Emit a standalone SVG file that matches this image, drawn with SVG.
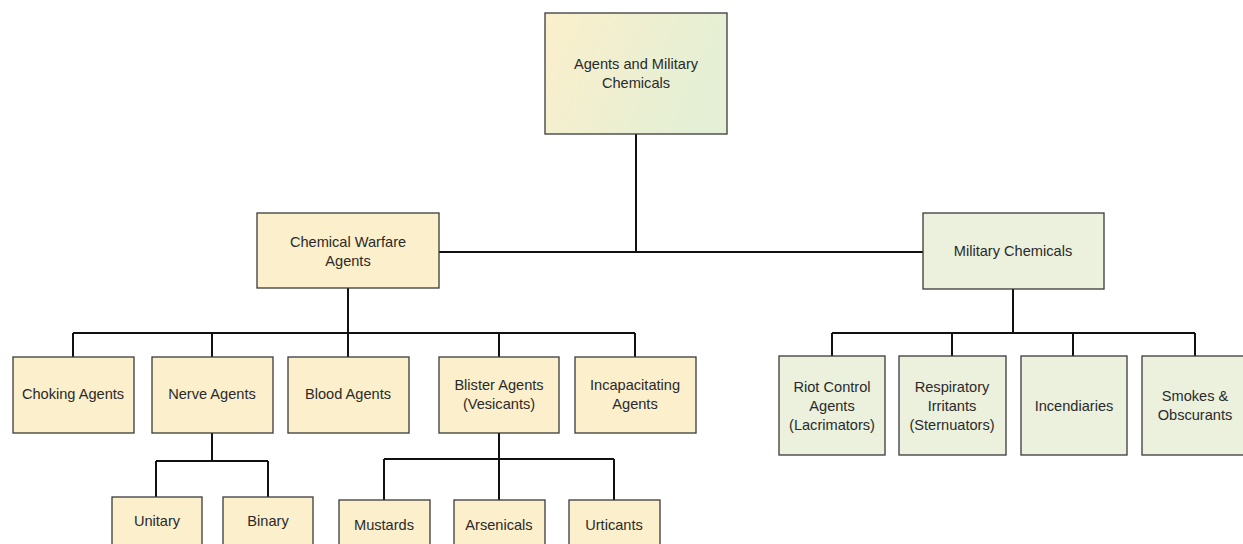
<svg xmlns="http://www.w3.org/2000/svg" width="1243" height="544" viewBox="0 0 1243 544">
<style>
.box{stroke:#3a3a3a;stroke-width:1.3}
.y{fill:#fcefcb}
.g{fill:#ebf1dd}
.t{font-family:"Liberation Sans",Arial,sans-serif;font-size:14.6px;fill:#2a2a2a;text-anchor:middle;dominant-baseline:central}
.c{stroke:#111;stroke-width:2;fill:none}
</style>
<defs>
<linearGradient id="tg" x1="0" y1="0" x2="1" y2="0.3">
<stop offset="0" stop-color="#fbefcb"/>
<stop offset="1" stop-color="#e4efd5"/>
</linearGradient>
</defs>
<rect width="1243" height="544" fill="#fff"/>
<g id="connectors">
<path class="c" d="M636 134V252M439 252H923"/>
<path class="c" d="M348 288V333M73 333H635M73 333V357M212 333V357M348 333V357M499 333V357M635 333V357"/>
<path class="c" d="M1013 289V333M832 333H1195M832 333V356M952 333V356M1073 333V356M1195 333V356"/>
<path class="c" d="M212 433V461M156 461H268M156 461V497M268 461V497"/>
<path class="c" d="M499 433V500M384 459H614M384 459V500M614 459V500"/>
</g>
<g id="n-root"><rect class="box" x="545" y="13" width="182" height="121" fill="url(#tg)"/><text class="t" x="636" y="64">Agents and Military</text><text class="t" x="636" y="83">Chemicals</text></g>
<g id="n-cwa"><rect class="box y" x="257" y="213" width="182" height="75"/><text class="t" x="348" y="242">Chemical Warfare</text><text class="t" x="348" y="261">Agents</text></g>
<g id="n-mc"><rect class="box g" x="923" y="213" width="181" height="76"/><text class="t" x="1013" y="251">Military Chemicals</text></g>
<g id="n-choking"><rect class="box y" x="13" y="357" width="121" height="76"/><text class="t" x="73" y="394">Choking Agents</text></g>
<g id="n-nerve"><rect class="box y" x="152" y="357" width="121" height="76"/><text class="t" x="212" y="394">Nerve Agents</text></g>
<g id="n-blood"><rect class="box y" x="288" y="357" width="121" height="76"/><text class="t" x="348" y="394">Blood Agents</text></g>
<g id="n-blister"><rect class="box y" x="439" y="357" width="120" height="76"/><text class="t" x="499" y="385">Blister Agents</text><text class="t" x="499" y="404">(Vesicants)</text></g>
<g id="n-incap"><rect class="box y" x="575" y="357" width="121" height="76"/><text class="t" x="635" y="385">Incapacitating</text><text class="t" x="635" y="404">Agents</text></g>
<g id="n-riot"><rect class="box g" x="779" y="356" width="106" height="99"/><text class="t" x="832" y="387">Riot Control</text><text class="t" x="832" y="406">Agents</text><text class="t" x="832" y="425">(Lacrimators)</text></g>
<g id="n-resp"><rect class="box g" x="899" y="356" width="107" height="99"/><text class="t" x="952" y="387">Respiratory</text><text class="t" x="952" y="406">Irritants</text><text class="t" x="952" y="425">(Sternuators)</text></g>
<g id="n-incend"><rect class="box g" x="1021" y="356" width="106" height="99"/><text class="t" x="1074" y="406">Incendiaries</text></g>
<g id="n-smokes"><rect class="box g" x="1142" y="356" width="106" height="99"/><text class="t" x="1195" y="396">Smokes &amp;</text><text class="t" x="1195" y="415">Obscurants</text></g>
<g id="n-unitary"><rect class="box y" x="112" y="497" width="90" height="80"/><text class="t" x="157" y="521">Unitary</text></g>
<g id="n-binary"><rect class="box y" x="223" y="497" width="90" height="80"/><text class="t" x="268" y="521">Binary</text></g>
<g id="n-mustards"><rect class="box y" x="339" y="500" width="91" height="80"/><text class="t" x="384" y="525">Mustards</text></g>
<g id="n-arsenicals"><rect class="box y" x="454" y="500" width="91" height="80"/><text class="t" x="499" y="525">Arsenicals</text></g>
<g id="n-urticants"><rect class="box y" x="569" y="500" width="91" height="80"/><text class="t" x="614" y="525">Urticants</text></g>
</svg>
